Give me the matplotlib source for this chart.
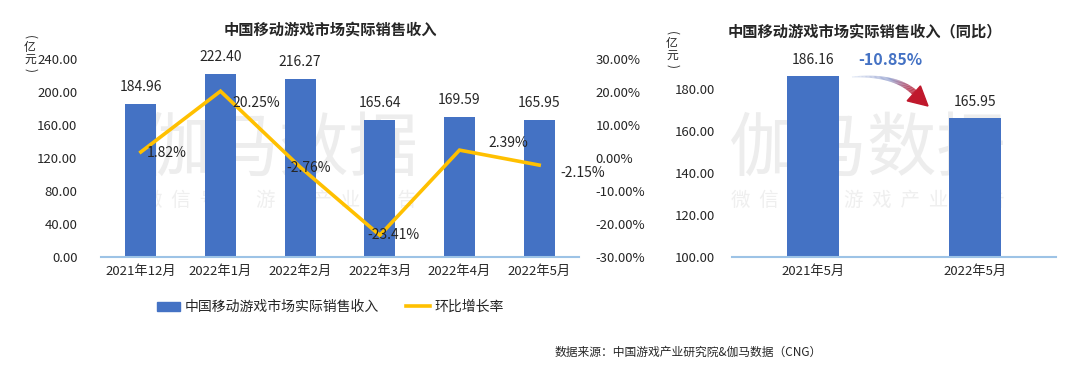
import numpy as np
import matplotlib
matplotlib.use("Agg")
import matplotlib.pyplot as plt
from matplotlib.collections import LineCollection
from matplotlib.patches import Polygon, Patch
from matplotlib.lines import Line2D
from matplotlib.colors import LinearSegmentedColormap

plt.rcParams['font.family'] = ['Noto Sans CJK SC', 'DejaVu Sans']

# 数据
meses = ['2021年12月', '2022年1月', '2022年2月', '2022年3月', '2022年4月', '2022年5月']
ingresos = [184.96, 222.40, 216.27, 165.64, 169.59, 165.95]
crecimiento = [1.82, 20.25, -2.76, -23.41, 2.39, -2.15]
# desplazamiento de las etiquetas del porcentaje (px)
offs = [(6, -1), (12, -12), (-14, -1), (-12, 0), (29, 7), (21, -8)]

meses_yoy = ['2021年5月', '2022年5月']
ingresos_yoy = [186.16, 165.95]
yoy = -10.85

AZUL = '#4472C4'
AMARILLO = '#FFC000'
EJE = '#9DC3E6'
TXT = '#262626'
W, H = 1080, 378

fig = plt.figure(figsize=(W / 100, H / 100), dpi=100)

def fx(px):
    return px / W

def fy(py):
    return 1 - py / H

def marca_agua(x0, x1):
    cx = (x0 + x1) / 2
    fig.text(fx(cx), fy(150), '伽马数据', ha='center', va='center', fontsize=50,
             color='#EDEDED', zorder=-5)
    fig.text(fx(cx), fy(200), '微  信  号  ：  游  戏  产  业  报  告', ha='center', va='center',
             fontsize=14, color='#EFEFEF', zorder=-5)

def unidad(px, py):
    # (亿元) escrito en vertical
    fig.text(fx(px), fy(py), '(', rotation=-90, ha='center', va='center', fontsize=8.5, color=TXT)
    fig.text(fx(px), fy(py + 11), '亿', ha='center', va='center', fontsize=8.5, color=TXT)
    fig.text(fx(px), fy(py + 22), '元', ha='center', va='center', fontsize=8.5, color=TXT)
    fig.text(fx(px), fy(py + 33), ')', rotation=-90, ha='center', va='center', fontsize=8.5, color=TXT)

# ---------------- gráfico izquierdo ----------------
ax = fig.add_axes([fx(101), fy(257), fx(579 - 101), (257 - 59) / H])
ax.patch.set_alpha(0)
x = np.arange(len(meses))
ax.bar(x, ingresos, width=0.39, color=AZUL, zorder=2)
ax.set_xlim(-0.5, len(meses) - 0.5)
ax.set_ylim(0, 240)
ax.set_yticks(np.arange(0, 241, 40))
ax.set_yticklabels([f'{v:.2f}' for v in np.arange(0, 241, 40)])
ax.set_xticks(x)
ax.set_xticklabels(meses)
for s in ['top', 'right', 'left']:
    ax.spines[s].set_visible(False)
ax.spines['bottom'].set_color(EJE)
ax.spines['bottom'].set_linewidth(1.5)
ax.tick_params(axis='y', length=0, pad=17, labelsize=9.5, labelcolor=TXT)
ax.tick_params(axis='x', length=0, pad=6, labelsize=9.5, labelcolor=TXT)
for xi, v in zip(x, ingresos):
    ax.annotate(f'{v:.2f}', (xi, v), xytext=(0, 10), textcoords='offset pixels',
                ha='center', va='bottom', fontsize=10, color=TXT)

ax2 = ax.twinx()
ax2.patch.set_alpha(0)
ax2.plot(x, crecimiento, color=AMARILLO, lw=2.6, zorder=3, solid_joinstyle='miter')
ax2.set_ylim(-30, 30)
ax2.set_yticks(np.arange(-30, 31, 10))
ax2.set_yticklabels([f'{v:.2f}%' for v in np.arange(-30, 31, 10)])
for s in ['top', 'right', 'left', 'bottom']:
    ax2.spines[s].set_visible(False)
ax2.tick_params(axis='y', length=0, pad=12, labelsize=9.5, labelcolor=TXT)
for xi, v, (dx, dy) in zip(x, crecimiento, offs):
    ax2.annotate(f'{v:.2f}%', (xi, v), xytext=(dx, dy), textcoords='offset pixels',
                 ha='left', va='center', fontsize=10, color=TXT)

fig.text(fx(330), fy(30), '中国移动游戏市场实际销售收入', ha='center', va='center',
         fontsize=11, fontweight='bold', color=TXT)
unidad(30, 37)
marca_agua(140, 420)

handles = [Patch(color=AZUL), Line2D([0], [0], color=AMARILLO, lw=2.6)]
fig.legend(handles, ['中国移动游戏市场实际销售收入', '环比增长率'], loc='center',
           bbox_to_anchor=(fx(330), fy(307)), ncol=2, frameon=False, fontsize=10,
           handlelength=1.7, handleheight=0.6, handletextpad=0.3, columnspacing=2.0,
           labelcolor=TXT)

# ---------------- gráfico derecho ----------------
ax3 = fig.add_axes([fx(732), fy(257), fx(1056 - 732), (257 - 67.5) / H])
ax3.patch.set_alpha(0)
x2 = np.arange(len(meses_yoy))
ax3.bar(x2, ingresos_yoy, width=0.315, color=AZUL, zorder=2)
ax3.set_xlim(-0.5, 1.5)
ax3.set_ylim(100, 190)
ax3.set_yticks(np.arange(100, 181, 20))
ax3.set_yticklabels([f'{v:.2f}' for v in np.arange(100, 181, 20)])
ax3.set_xticks(x2)
ax3.set_xticklabels(meses_yoy)
for s in ['top', 'right', 'left']:
    ax3.spines[s].set_visible(False)
ax3.spines['bottom'].set_color(EJE)
ax3.spines['bottom'].set_linewidth(1.5)
ax3.tick_params(axis='y', length=0, pad=12, labelsize=9.5, labelcolor=TXT)
ax3.tick_params(axis='x', length=0, pad=6, labelsize=9.5, labelcolor=TXT)
for xi, v in zip(x2, ingresos_yoy):
    ax3.annotate(f'{v:.2f}', (xi, v), xytext=(0, 9), textcoords='offset pixels',
                 ha='center', va='bottom', fontsize=10, color=TXT)

fig.text(fx(865), fy(32), '中国移动游戏市场实际销售收入（同比）', ha='center', va='center',
         fontsize=11, fontweight='bold', color=TXT)
unidad(672, 33)
fig.text(fx(890), fy(60), f'{yoy:.2f}%', ha='center', va='center', fontsize=11.5,
         fontweight='bold', color=AZUL)
marca_agua(735, 1000)

# flecha curva con degradado azul -> rojo
t = np.linspace(0, 1, 60)
p0, p1, p2 = np.array([852, 77]), np.array([895, 74]), np.array([915, 93])
pts = ((1 - t) ** 2)[:, None] * p0 + (2 * (1 - t) * t)[:, None] * p1 + (t ** 2)[:, None] * p2
pf = np.column_stack([fx(pts[:, 0]), fy(pts[:, 1])])
segs = np.stack([pf[:-1], pf[1:]], axis=1)
cmap = LinearSegmentedColormap.from_list('fl', ['#E4EAF6', '#9AA6D2', '#C0182C'])
lc = LineCollection(segs, colors=cmap(t[:-1]), linewidths=np.linspace(0.8, 4.5, 59),
                    transform=fig.transFigure, capstyle='butt')
fig.add_artist(lc)
tip = np.array([928, 106])
d = tip - np.array([910, 90])
d = d / np.hypot(*d)
nrm = np.array([-d[1], d[0]])
base = tip - 19 * d
head = [tip, base + 10 * nrm, base - 10 * nrm]
fig.add_artist(Polygon([(fx(a), fy(b)) for a, b in head], closed=True, color='#C0182C',
                       transform=fig.transFigure))

fig.text(fx(555), fy(352), '数据来源：中国游戏产业研究院&伽马数据（CNG）', ha='left',
         va='center', fontsize=8.5, color=TXT)

fig.savefig('out.png', dpi=100)
